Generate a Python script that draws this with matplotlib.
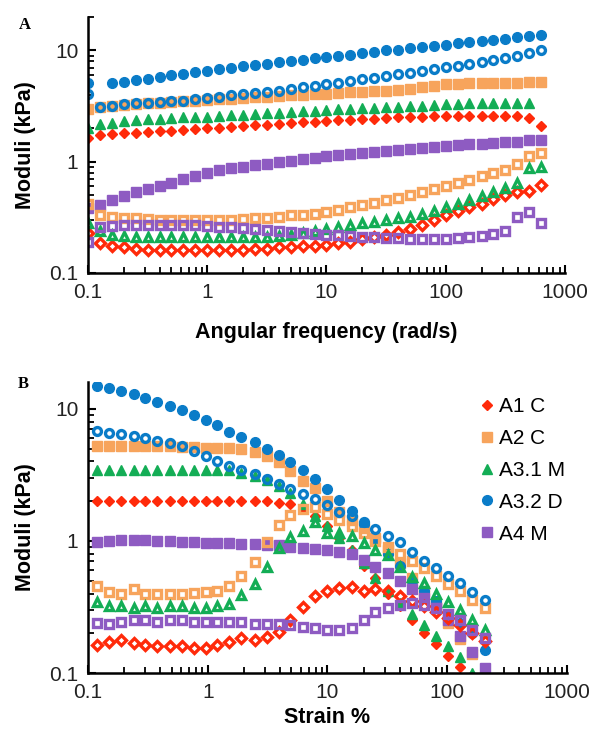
import numpy as np
import matplotlib
matplotlib.use("Agg")
import matplotlib.pyplot as plt
from matplotlib.ticker import FixedLocator, LogLocator, NullFormatter, FixedFormatter

plt.rcParams['font.family'] = ['Liberation Sans', 'DejaVu Sans']

nan = np.nan

# ---- panel A: frequency sweep ----
freq = [0.1, 0.126, 0.158, 0.2, 0.251, 0.316, 0.398, 0.501, 0.631, 0.794,
        1, 1.26, 1.58, 2.0, 2.51, 3.16, 3.98, 5.01, 6.31, 7.94,
        10, 12.6, 15.8, 20, 25.1, 31.6, 39.8, 50.1, 63.1, 79.4,
        100, 126, 158, 200, 251, 316, 398, 501, 631]

a1_gp = [1.65, 1.75, 1.78, 1.8, 1.83, 1.86, 1.88, 1.9, 1.93, 1.96,
         2.0, 2.03, 2.06, 2.09, 2.12, 2.15, 2.2, 2.23, 2.26, 2.29,
         2.32, 2.35, 2.38, 2.41, 2.44, 2.47, 2.5, 2.52, 2.54, 2.56,
         2.58, 2.6, 2.6, 2.6, 2.6, 2.58, 2.56, 2.45, 2.1]
a1_gpp = [0.23, 0.185, 0.175, 0.17, 0.165, 0.16, 0.16, 0.16, 0.16, 0.16,
          0.16, 0.16, 0.16, 0.16, 0.165, 0.165, 0.17, 0.17, 0.175, 0.175,
          0.18, 0.185, 0.19, 0.2, 0.21, 0.22, 0.235, 0.25, 0.27, 0.3,
          0.33, 0.36, 0.39, 0.42, 0.46, 0.5, 0.53, 0.55, 0.62]
a2_gp = [3.0, 3.1, 3.2, 3.25, 3.3, 3.35, 3.4, 3.45, 3.5, 3.55,
         3.6, 3.65, 3.7, 3.75, 3.8, 3.85, 3.9, 3.95, 4.0, 4.05,
         4.1, 4.15, 4.2, 4.25, 4.3, 4.35, 4.45, 4.55, 4.65, 4.8,
         4.95, 5.0, 5.05, 5.1, 5.1, 5.15, 5.15, 5.2, 5.2]
a2_gpp = [0.42, 0.33, 0.32, 0.31, 0.31, 0.305, 0.3, 0.3, 0.3, 0.3,
          0.3, 0.3, 0.3, 0.305, 0.31, 0.315, 0.32, 0.33, 0.335, 0.34,
          0.35, 0.37, 0.39, 0.41, 0.43, 0.45, 0.47, 0.5, 0.53, 0.57,
          0.61, 0.65, 0.69, 0.74, 0.79, 0.85, 0.96, 1.13, 1.2]
a31_gp = [2.0, 2.2, 2.25, 2.3, 2.35, 2.4, 2.42, 2.45, 2.5, 2.52,
          2.55, 2.6, 2.62, 2.65, 2.7, 2.72, 2.75, 2.8, 2.83, 2.87,
          2.9, 2.95, 2.98, 3.02, 3.05, 3.1, 3.12, 3.15, 3.2, 3.25,
          3.3, 3.32, 3.35, 3.37, 3.4, 3.4, 3.4, 3.4, nan]
a31_gpp = [0.28, 0.24, 0.22, 0.215, 0.21, 0.21, 0.21, 0.21, 0.21, 0.21,
           0.21, 0.21, 0.21, 0.21, 0.21, 0.21, 0.215, 0.22, 0.23, 0.24,
           0.25, 0.26, 0.27, 0.28, 0.29, 0.3, 0.31, 0.32, 0.34, 0.36,
           0.39, 0.42, 0.45, 0.49, 0.53, 0.58, 0.65, 0.88, 0.9]
a32_gp = [5.1, nan, 5.1, 5.2, 5.4, 5.6, 5.8, 6.0, 6.2, 6.4,
          6.6, 6.8, 7.0, 7.2, 7.4, 7.6, 7.8, 8.0, 8.2, 8.5,
          8.8, 9.0, 9.2, 9.5, 9.7, 10.0, 10.2, 10.5, 10.8, 11.0,
          11.3, 11.6, 11.9, 12.2, 12.5, 12.8, 13.1, 13.5, 13.9]
a32_gpp = [4.1, 3.1, 3.2, 3.3, 3.35, 3.4, 3.45, 3.5, 3.55, 3.65,
           3.75, 3.85, 3.95, 4.05, 4.15, 4.25, 4.35, 4.5, 4.65, 4.8,
           5.0, 5.15, 5.3, 5.5, 5.7, 5.9, 6.1, 6.3, 6.55, 6.8,
           7.05, 7.3, 7.6, 7.9, 8.2, 8.5, 8.9, 9.4, 10.0]
a4_gp = [0.38, 0.41, 0.45, 0.49, 0.53, 0.57, 0.61, 0.65, 0.7, 0.75,
         0.8, 0.84, 0.87, 0.9, 0.93, 0.96, 0.99, 1.02, 1.05, 1.09,
         1.12, 1.15, 1.18, 1.2, 1.23, 1.25, 1.27, 1.3, 1.33, 1.36,
         1.39, 1.41, 1.43, 1.45, 1.47, 1.5, 1.52, 1.57, 1.57]
a4_gpp = [0.19, 0.26, 0.265, 0.27, 0.27, 0.27, 0.27, 0.27, 0.27, 0.27,
          0.265, 0.26, 0.26, 0.255, 0.25, 0.245, 0.24, 0.235, 0.23, 0.225,
          0.22, 0.22, 0.215, 0.21, 0.21, 0.205, 0.205, 0.2, 0.2, 0.2,
          0.2, 0.205, 0.21, 0.215, 0.225, 0.24, 0.32, 0.35, 0.28]

# ---- panel B: strain sweep ----
strain = [0.12, 0.15, 0.19, 0.24, 0.3, 0.38, 0.48, 0.61, 0.77, 0.97,
          1.2, 1.5, 1.9, 2.5, 3.1, 3.9, 4.9, 6.2, 7.8, 9.9,
          12.5, 16, 20, 25, 32, 40, 51, 64, 81, 102,
          128, 162, 205]

b1_gp = [2.0, 2.0, 2.0, 2.0, 2.0, 2.0, 2.0, 2.0, 2.0, 2.0,
         2.0, 2.0, 2.0, 2.0, 2.0, 1.95, 1.9, 1.75, 1.55, 1.3,
         1.05, 0.85, 0.65, 0.52, 0.4, 0.32, 0.25, 0.2, 0.165, 0.135,
         0.112, nan, nan]
b1_gpp = [0.163, 0.172, 0.177, 0.168, 0.163, 0.16, 0.16, 0.16, 0.156, 0.154,
          0.163, 0.172, 0.183, 0.177, 0.186, 0.205, 0.25, 0.316, 0.38, 0.42,
          0.44, 0.45, 0.42, 0.43, 0.42, 0.38, 0.35, 0.32, 0.29, 0.26,
          0.23, 0.2, 0.175]
b2_gp = [5.26, 5.26, 5.26, 5.26, 5.2, 5.2, 5.2, 5.15, 5.15, 5.1,
         5.1, 5.1, 4.97, 4.68, 4.42, 3.93, 3.4, 2.86, 2.5, 2.0,
         1.65, 1.45, 1.25, 1.05, 0.85, 0.68, 0.52, 0.42, 0.32, 0.24,
         0.18, 0.14, nan]
b2_gpp = [0.454, 0.41, 0.4, 0.43, 0.4, 0.395, 0.4, 0.4, 0.404, 0.41,
          0.42, 0.454, 0.54, 0.69, 0.98, 1.31, 1.56, 1.76, 1.8, 1.6,
          1.45, 1.3, 1.15, 1.0, 0.9, 0.8, 0.7, 0.62, 0.54, 0.47,
          0.42, 0.36, 0.31]
b31_gp = [3.45, 3.45, 3.45, 3.45, 3.45, 3.45, 3.45, 3.45, 3.45, 3.45,
          3.45, 3.45, 3.3, 3.1, 2.9, 2.6, 2.3, 1.9, 1.55, 1.3,
          1.05, 0.85, 0.68, 0.52, 0.42, 0.34, 0.28, 0.23, 0.19, 0.16,
          0.133, 0.1, nan]
b31_gpp = [0.345, 0.32, 0.32, 0.31, 0.32, 0.31, 0.32, 0.32, 0.31, 0.31,
           0.32, 0.335, 0.39, 0.475, 0.63, 0.88, 1.07, 1.2, 1.4, 1.14,
           1.14, 1.1, 0.96, 0.85, 0.78, 0.63, 0.53, 0.48, 0.4, 0.345,
           0.3, 0.25, 0.21]
b32_gp = [14.9, 14.3, 13.7, 13.0, 12.2, 11.3, 10.5, 9.8, 9.0, 8.2,
          7.5, 6.7, 6.15, 5.57, 4.97, 4.5, 3.98, 3.45, 2.94, 2.48,
          2.06, 1.7, 1.35, 1.0, 0.8, 0.65, 0.5, 0.42, 0.35, 0.28,
          0.24, 0.2, 0.15]
b32_gpp = [6.8, 6.6, 6.45, 6.25, 6.0, 5.75, 5.55, 5.2, 4.8, 4.4,
           4.05, 3.7, 3.45, 3.2, 2.95, 2.72, 2.48, 2.27, 2.08, 1.88,
           1.65, 1.55, 1.4, 1.24, 1.1, 0.98, 0.83, 0.71, 0.62, 0.54,
           0.48, 0.41, 0.36]
b4_gp = [0.98, 1.0, 1.01, 1.02, 1.01, 1.0, 1.0, 0.99, 0.98, 0.97,
         0.96, 0.96, 0.95, 0.95, 0.94, 0.925, 0.9, 0.89, 0.87, 0.85,
         0.83, 0.8, 0.72, 0.64, 0.57, 0.5, 0.43, 0.37, 0.31, 0.25,
         0.19, 0.145, 0.11]
b4_gpp = [0.24, 0.237, 0.245, 0.25, 0.254, 0.245, 0.25, 0.254, 0.244, 0.244,
          0.244, 0.244, 0.244, 0.237, 0.237, 0.235, 0.23, 0.225, 0.22, 0.21,
          0.21, 0.22, 0.25, 0.29, 0.31, 0.33, 0.34, 0.33, 0.31, 0.28,
          0.25, 0.21, 0.185]

labels = ['A1 C', 'A2 C', 'A3.1 M', 'A3.2 D', 'A4 M']
colors = ['#FF2A0A', '#F7A45C', '#13AD55', '#0A7CC8', '#8E5BC2']
markers = ['D', 's', '^', 'o', 's']
ms_fill = [5.4, 6.6, 7.6, 7.0, 6.6]
ms_open = [4.6, 5.4, 6.3, 5.7, 5.4]

fig = plt.figure(figsize=(6.01, 7.39), dpi=100)
axA = fig.add_axes([0.1464, 0.6306, 0.7937, 0.3464])
axB = fig.add_axes([0.1464, 0.0893, 0.7970, 0.3938])


def draw(ax, x, gps, gpps):
    # storage moduli (filled) first, then loss moduli (hollow)
    for i in range(5):
        ax.plot(x, gps[i], linestyle='none', marker=markers[i], ms=ms_fill[i],
                color=colors[i], mec=colors[i], label=labels[i])
    for i in range(5):
        ax.plot(x, gpps[i], linestyle='none', marker=markers[i], ms=ms_open[i],
                mfc='none', mec=colors[i], mew=2.4)


draw(axA, freq, [a1_gp, a2_gp, a31_gp, a32_gp, a4_gp],
     [a1_gpp, a2_gpp, a31_gpp, a32_gpp, a4_gpp])
draw(axB, strain, [b1_gp, b2_gp, b31_gp, b32_gp, b4_gp],
     [b1_gpp, b2_gpp, b31_gpp, b32_gpp, b4_gpp])

for ax, ytop in [(axA, 20), (axB, 16)]:
    ax.set_xscale('log')
    ax.set_yscale('log')
    ax.set_xlim(0.1, 1000)
    ax.set_ylim(0.1, ytop)
    for s in ['top', 'right']:
        ax.spines[s].set_visible(False)
    for s in ['left', 'bottom']:
        ax.spines[s].set_linewidth(1.8)
    ax.xaxis.set_major_locator(FixedLocator([0.1, 1, 10, 100, 1000]))
    ax.xaxis.set_major_formatter(FixedFormatter(['0.1', '1', '10', '100', '1000']))
    ax.yaxis.set_major_locator(FixedLocator([0.1, 1, 10]))
    ax.yaxis.set_major_formatter(FixedFormatter(['0.1', '1', '10']))
    ax.xaxis.set_minor_locator(LogLocator(base=10, subs=np.arange(2, 10)))
    ax.yaxis.set_minor_locator(LogLocator(base=10, subs=np.arange(2, 10)))
    ax.xaxis.set_minor_formatter(NullFormatter())
    ax.yaxis.set_minor_formatter(NullFormatter())
    ax.tick_params(which='major', direction='in', length=6, width=1.5,
                   labelsize=15, pad=7, colors='black', labelcolor='#222222')
    ax.tick_params(which='minor', direction='in', length=4, width=1.3)
    ax.set_ylabel('Moduli (kPa)', fontsize=15.5, fontweight='bold')
    ax.yaxis.set_label_coords(-0.108, 0.5)

axA.set_xlabel('Angular frequency (rad/s)', fontsize=15.5, fontweight='bold')
axA.xaxis.set_label_coords(0.5, -0.19)
axB.set_xlabel('Strain %', fontsize=15.5, fontweight='bold')
axB.xaxis.set_label_coords(0.5, -0.118)

fig.text(25 / 601, 1 - 25 / 739, 'A', fontsize=12, fontweight='bold',
         family=['Liberation Serif', 'DejaVu Serif'], ha='center', va='center')
fig.text(23 / 601, 1 - 384 / 739, 'B', fontsize=12, fontweight='bold',
         family=['Liberation Serif', 'DejaVu Serif'], ha='center', va='center')

axB.legend(loc='upper left', bbox_to_anchor=(481 / 601, 1 - 397 / 739),
           bbox_transform=fig.transFigure, frameon=False, fontsize=15,
           handlelength=0.6, handletextpad=0.25, labelspacing=0.62,
           borderpad=0, borderaxespad=0)

fig.savefig('out.png', dpi=100)
